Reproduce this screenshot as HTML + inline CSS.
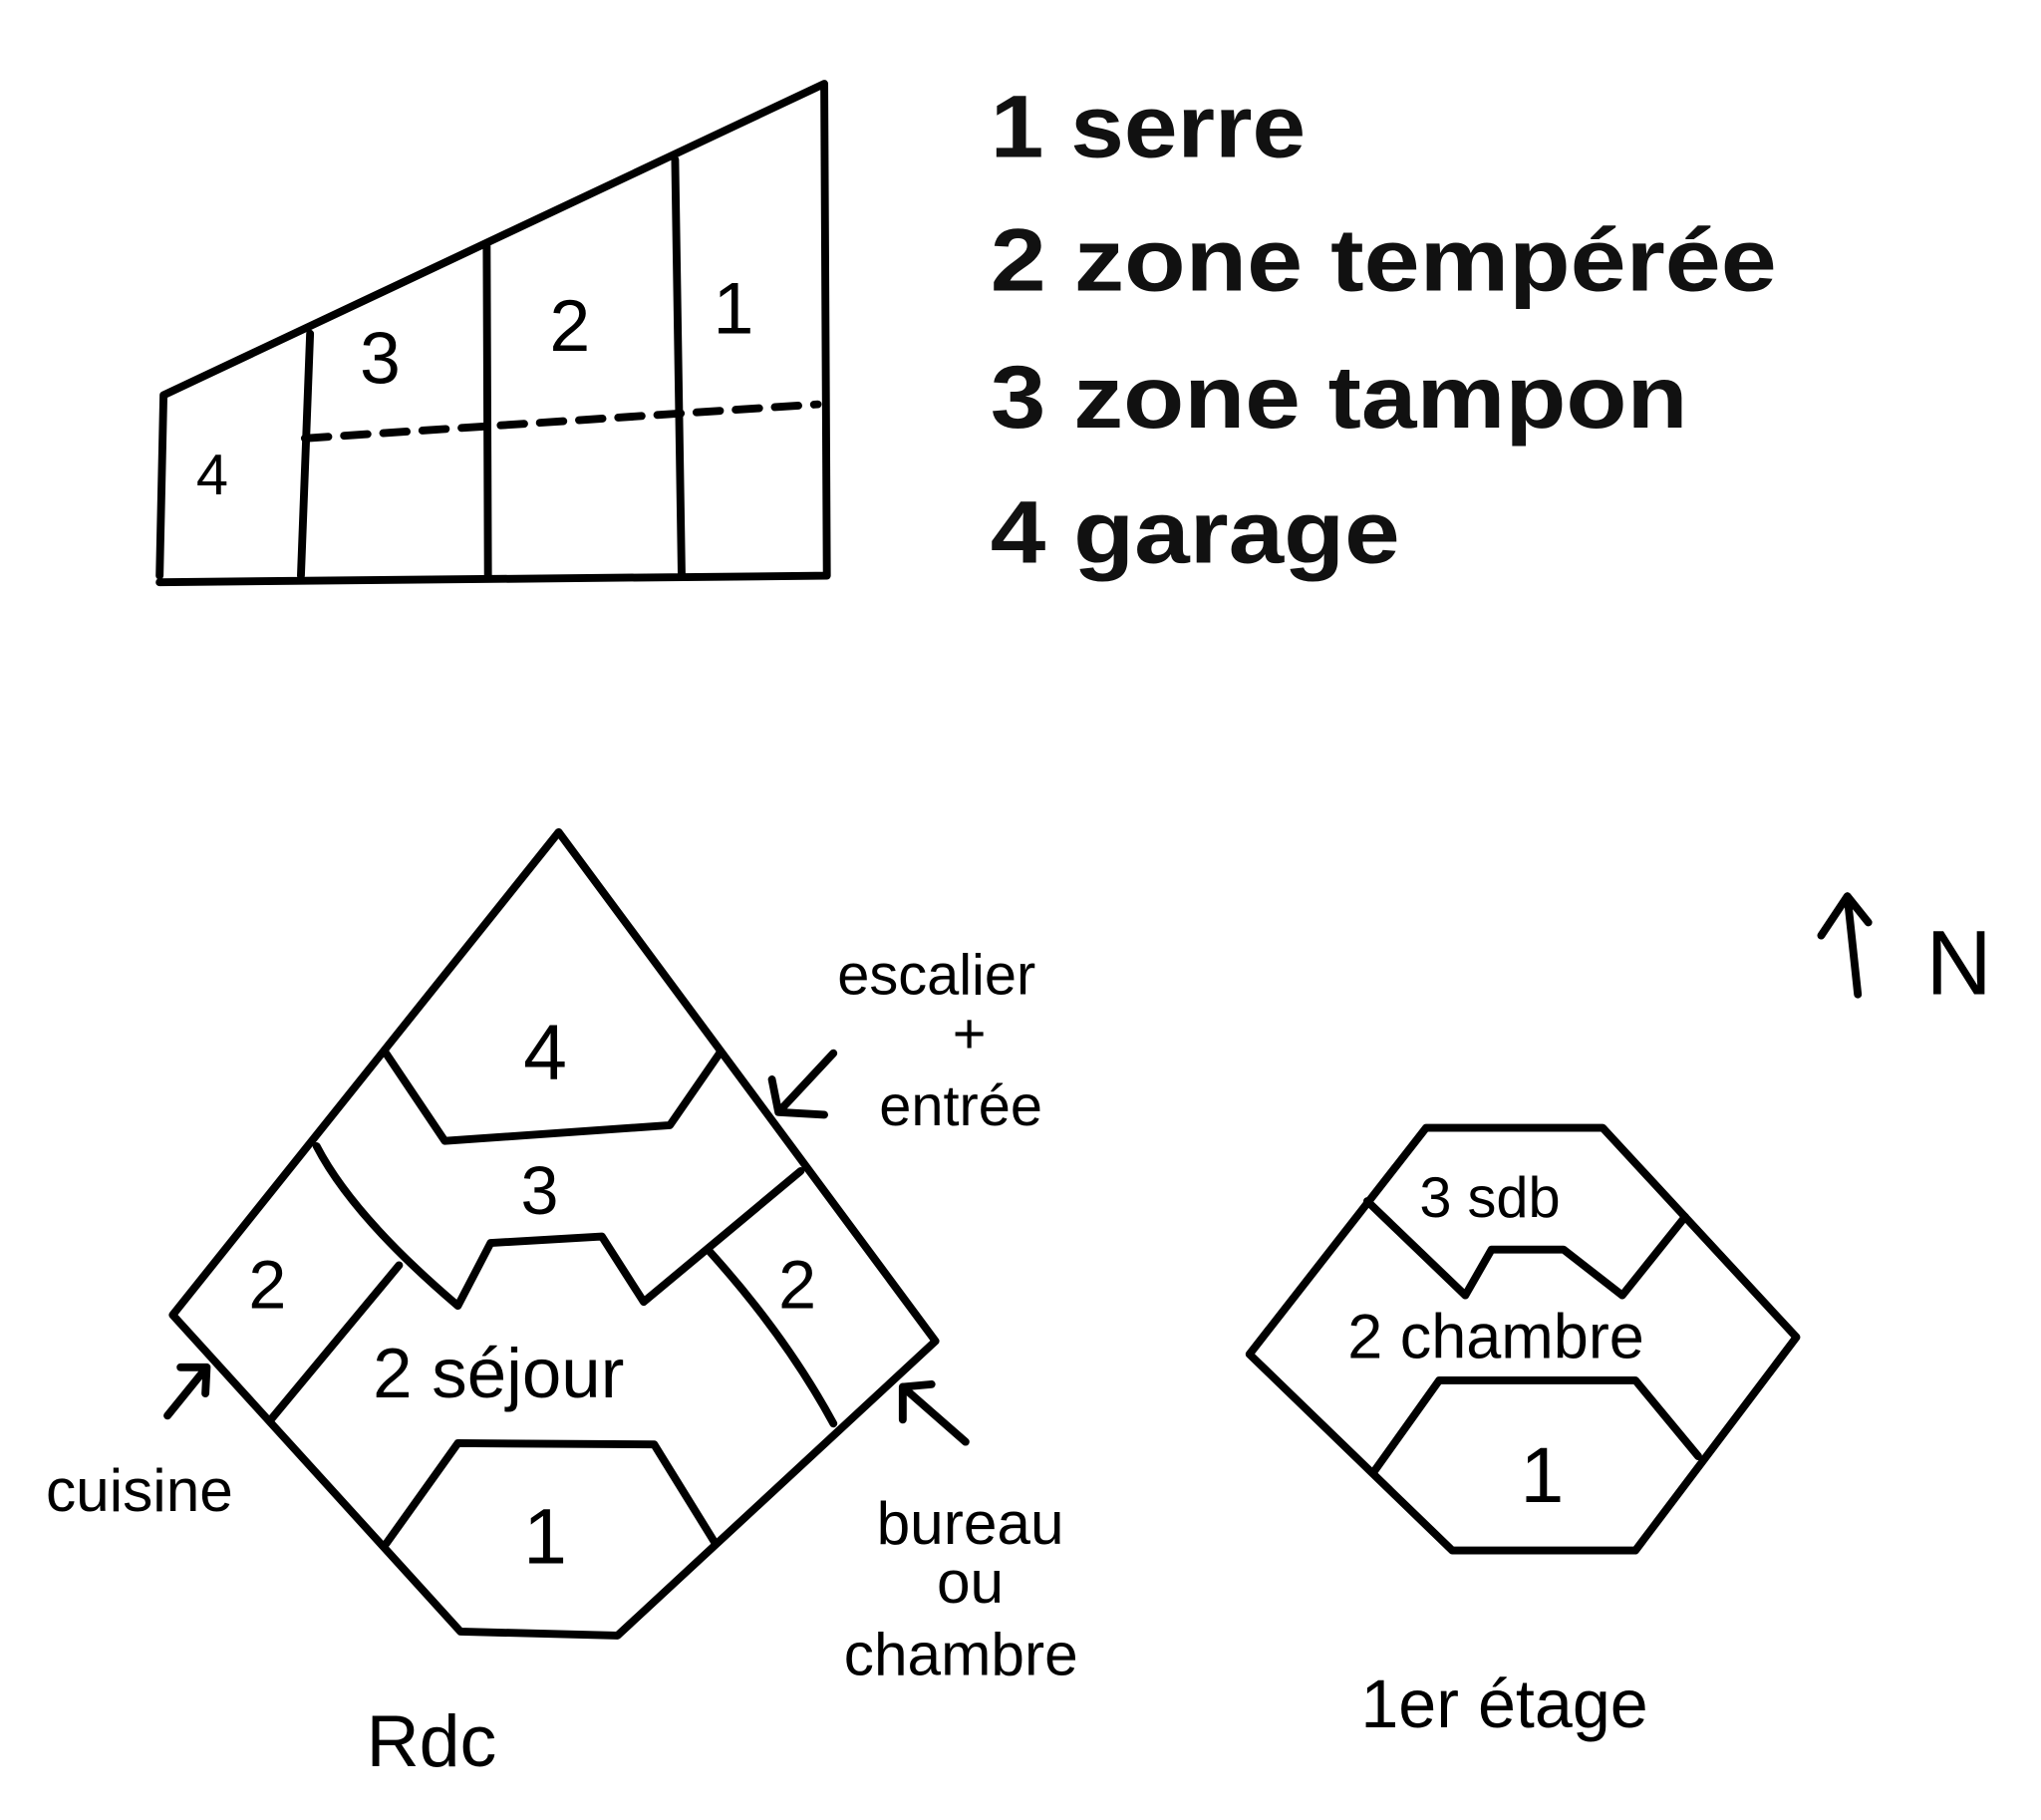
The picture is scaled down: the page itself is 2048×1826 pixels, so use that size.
<!DOCTYPE html>
<html><head><meta charset="utf-8"><style>
html,body{margin:0;padding:0;background:#fff;}
svg{display:block;}
.l{fill:none;stroke:#000;stroke-width:6;stroke-linecap:round;stroke-linejoin:round;}
.h{font-family:"Liberation Sans",sans-serif;fill:#000;}
.g{font-family:"Liberation Sans",sans-serif;font-weight:bold;fill:#111;font-size:68px;}
</style></head><body>
<svg width="2048" height="1826" viewBox="0 0 1560 1391" preserveAspectRatio="none">
<rect width="1560" height="1391" fill="#fff"/>
<g>
<path class="l" d="M122,440 L125,302 L630,64 L632,440 M122,445 L632,440 M237,255 L230,440 M372,188 L373,440 M516,122 L521,440"/>
<path class="l" d="M233,335 L625,309" stroke-dasharray="18,12"/>
<text class="h" x="150" y="378" font-size="44">4</text>
<text class="h" x="275" y="293" font-size="56">3</text>
<text class="h" x="420" y="268" font-size="56">2</text>
<text class="h" x="545" y="255" font-size="56">1</text>
</g>
<g>
<text class="g" x="757" y="120" textLength="241" lengthAdjust="spacingAndGlyphs">1 serre</text>
<text class="g" x="757" y="222" textLength="601" lengthAdjust="spacingAndGlyphs">2 zone tempérée</text>
<text class="g" x="757" y="327" textLength="533" lengthAdjust="spacingAndGlyphs">3 zone tampon</text>
<text class="g" x="757" y="430" textLength="313" lengthAdjust="spacingAndGlyphs">4 garage</text>
</g>
<g>
<path class="l" d="M427,636 L132,1005 L352,1247 L472,1250 L715,1025 Z"/>
<path class="l" d="M295,805 L340,872 L512,860 L550,805"/>
<path class="l" d="M242,876 Q270,930 350,998 L375,950 L460,945 L492,995 L612,895"/>
<path class="l" d="M305,967 L207,1085 M541,955 Q600,1020 637,1088"/>
<path class="l" d="M295,1180 L350,1103 L500,1104 L547,1180"/>
<text class="h" x="400" y="825" font-size="60">4</text>
<text class="h" x="398" y="928" font-size="52">3</text>
<text class="h" x="190" y="1000" font-size="52">2</text>
<text class="h" x="595" y="1000" font-size="52">2</text>
<text class="h" x="285" y="1068" font-size="54">2 séjour</text>
<text class="h" x="400" y="1195" font-size="60">1</text>
<text class="h" x="640" y="760" font-size="44">escalier</text>
<text class="h" x="728" y="805" font-size="44">+</text>
<text class="h" x="672" y="860" font-size="44">entrée</text>
<path class="l" d="M637,805 L595,850 M590,825 L595,850 L630,852"/>
<text class="h" x="35" y="1155" font-size="46">cuisine</text>
<path class="l" d="M128,1082 L158,1045 M138,1045 L158,1045 L157,1065"/>
<text class="h" x="670" y="1180" font-size="46">bureau</text>
<text class="h" x="716" y="1225" font-size="46">ou</text>
<text class="h" x="645" y="1280" font-size="46">chambre</text>
<path class="l" d="M738,1102 L690,1060 M690,1085 L690,1060 L712,1058"/>
<text class="h" x="280" y="1350" font-size="56">Rdc</text>
</g>
<g>
<path class="l" d="M1090,862 L1225,862 L1373,1022 L1250,1185 L1110,1185 L955,1035 Z"/>
<path class="l" d="M1045,918 L1120,990 L1140,955 L1195,955 L1240,990 L1288,930"/>
<path class="l" d="M1050,1125 L1100,1055 L1250,1055 L1298,1113"/>
<text class="h" x="1085" y="930" font-size="44">3 sdb</text>
<text class="h" x="1030" y="1038" font-size="48">2 chambre</text>
<text class="h" x="1162" y="1148" font-size="60">1</text>
<text class="h" x="1040" y="1320" font-size="52">1er étage</text>
</g>
<g>
<path class="l" d="M1412,685 L1420,760 M1392,715 L1412,685 L1428,705"/>
<text class="h" x="1472" y="760" font-size="70">N</text>
</g>
</svg>
</body></html>
